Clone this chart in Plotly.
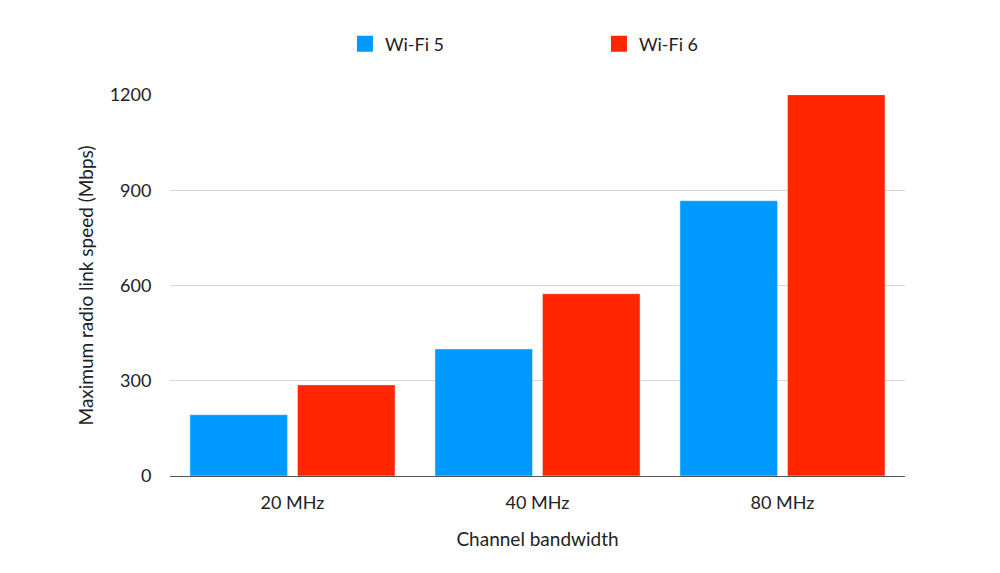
import plotly.graph_objects as go

bandwidths = ["20 MHz", "40 MHz", "80 MHz"]
wifi5_speeds = [193, 400, 867]
wifi6_speeds = [287, 574, 1201]

series = [("Wi-Fi 5", wifi5_speeds, "#0099FF"), ("Wi-Fi 6", wifi6_speeds, "#FF2600")]

fig = go.Figure()
for name, vals, color in series:
    fig.add_trace(go.Bar(x=bandwidths, y=vals, name=name, marker_color=color, showlegend=False))
# legend-only markers so the legend squares are bigger
for name, vals, color in series:
    fig.add_trace(
        go.Scatter(
            x=[None], y=[None], mode="markers", name=name,
            marker=dict(symbol="square", size=18, color=color),
        )
    )

fig.update_layout(
    width=1000,
    height=573,
    margin=dict(l=162, r=103, t=87, b=105),
    paper_bgcolor="white",
    plot_bgcolor="white",
    font=dict(family="Lato, Noto Sans, sans-serif", size=16, color="#222"),
    barmode="group",
    bargap=0.122,
    bargroupgap=0.093,
    showlegend=True,
    legend=dict(
        orientation="h",
        x=0.238,
        xanchor="left",
        y=1.134,
        yanchor="middle",
        entrywidth=209,
        itemsizing="trace",
        font=dict(size=18),
    ),
    xaxis=dict(
        title=dict(text="Channel bandwidth", standoff=21, font=dict(size=19)),
        showgrid=False,
        showline=True,
        linecolor="#555",
        ticks="outside",
        ticklen=10,
        tickcolor="rgba(0,0,0,0)",
        tickfont=dict(size=18),
    ),
    yaxis=dict(
        title=dict(text="Maximum radio link speed (Mbps)", standoff=10, font=dict(size=19)),
        range=[0, 1200],
        tickvals=[0, 300, 600, 900, 1200],
        gridcolor="#d6d6d6",
        zeroline=False,
        ticks="outside",
        ticklen=14,
        tickcolor="rgba(0,0,0,0)",
        tickfont=dict(size=18),
    ),
)

fig.write_html("out.html")
